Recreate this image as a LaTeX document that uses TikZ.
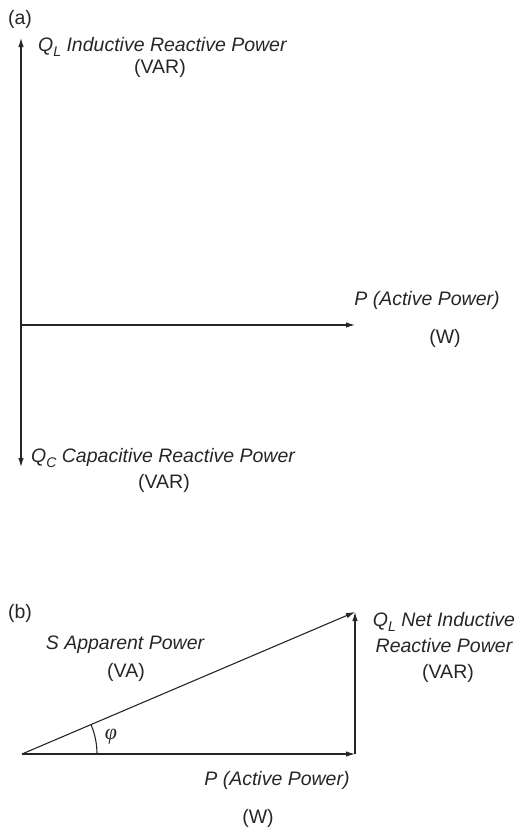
\documentclass[tikz,border=0pt]{standalone}
\usepackage{fontspec}
\setmainfont{Liberation Sans}
\newfontfamily\phifont{Liberation Serif}
\usetikzlibrary{arrows.meta}
\definecolor{ink}{HTML}{262626}
\newcommand{\sbs}[1]{\raisebox{-0.3em}{\fontsize{14}{14}\selectfont\itshape #1}}
\begin{document}
\begin{tikzpicture}[x=1pt,y=-1pt,
  axis/.style={draw=ink,line width=1.1pt,-{Latex[length=9pt,width=5.5pt]}},
  lbl/.style={inner sep=0pt,text=ink,font=\fontsize{19.5}{22}\selectfont\itshape},
  unit/.style={inner sep=0pt,text=ink,font=\fontsize{19.5}{22}\selectfont},
]
\useasboundingbox (0,0) rectangle (522,830);
% ---------- (a) ----------
\coordinate (O) at (21,325);
\coordinate (T) at (21,38);
\coordinate (B) at (21,467);
\coordinate (R) at (355,325);
\draw[axis] (O) -- (T);
\draw[axis] (O) -- (B);
\draw[axis] (O) -- (R);
\node[unit] (la) at (20,19) {(a)};
\node[lbl,anchor=west] (ql) at (38,47) {Q\sbs{L} Inductive Reactive Power};
\node[unit] (qlu) at (160,68) {(VAR)};
\node[lbl] (pa) at (427,300) {P (Active Power)};
\node[unit] (pau) at (445,338) {(W)};
\node[lbl,anchor=west] (qc) at (31,458) {Q\sbs{C} Capacitive Reactive Power};
\node[unit] (qcu) at (164,483) {(VAR)};
% ---------- (b) ----------
\coordinate (O2) at (22,754);
\coordinate (P2) at (355,754);
\coordinate (Q2) at (355,612);
\draw[axis] (O2) -- (P2);
\draw[axis] (P2) -- (Q2);
\draw[axis] (O2) -- (Q2);
\draw[draw=ink,line width=1.1pt] ([xshift=75pt]O2) arc[start angle=0,end angle=-23,radius=75];
\node[inner sep=0pt,text=ink,font=\fontsize{22}{24}\selectfont\phifont\itshape] (phi) at (111,737) {φ};
\node[unit] (lb) at (20,613) {(b)};
\node[lbl] (s) at (125,645) {S Apparent Power};
\node[unit] (su) at (126,672) {(VA)};
\node[lbl] (qn1) at (444,622) {Q\sbs{L} Net Inductive};
\node[lbl] (qn2) at (444,646) {Reactive Power};
\node[unit] (qnu) at (448,673) {(VAR)};
\node[lbl] (pb) at (277,780) {P (Active Power)};
\node[unit] (pbu) at (258,818) {(W)};
\end{tikzpicture}
\end{document}
